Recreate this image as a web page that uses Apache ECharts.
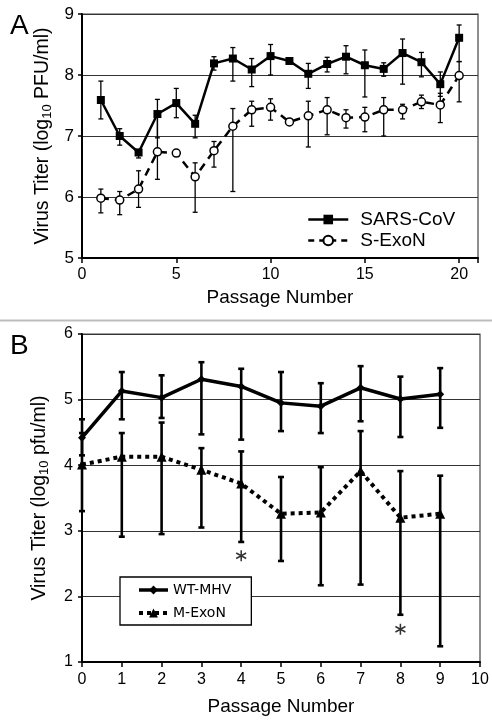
<!DOCTYPE html>
<html><head><meta charset="utf-8">
<script src="https://cdn.jsdelivr.net/npm/echarts@6/dist/echarts.min.js"></script>
<style>html,body{margin:0;padding:0;background:#fff}#c{width:492px;height:726px}</style>
</head><body><div id="c"></div>
<script>
// ---- Panel A data ----
const passagesA = [1,2,3,4,5,6,7,8,9,10,11,12,13,14,15,16,17,18,19,20];
const sarsCoV   = [7.59,7.00,6.73,7.36,7.54,7.20,8.19,8.27,8.09,8.31,8.23,8.02,8.18,8.30,8.16,8.10,8.36,8.21,7.85,8.61];
const sarsLow   = [7.28,6.85,6.64,6.97,7.30,6.97,8.08,7.90,7.81,8.00,null,7.78,8.05,8.02,7.64,7.98,7.85,7.97,7.65,8.22];
const sarsHigh  = [7.90,7.12,6.78,7.60,7.78,7.34,8.30,8.45,8.27,8.50,null,8.19,8.29,8.48,8.41,8.20,8.59,8.37,8.05,8.82];
const sExoN     = [5.98,5.95,6.13,6.74,6.72,6.33,6.76,7.16,7.43,7.47,7.23,7.33,7.43,7.30,7.31,7.43,7.43,7.56,7.51,7.99];
const sExoNLow  = [5.74,5.71,5.83,6.29,null,5.75,6.49,6.09,7.16,7.26,null,6.82,7.02,7.13,7.07,7.00,7.28,7.45,7.22,7.56];
const sExoNHigh = [6.13,6.09,6.43,7.34,null,6.56,6.91,7.45,7.57,7.61,null,7.57,7.63,7.43,7.47,7.63,7.52,7.67,7.70,8.22];
const xTicksA = [0,5,10,15,20];
const yTicksA = [5,6,7,8,9];

// ---- Panel B data ----
const passagesB = [0,1,2,3,4,5,6,7,8,9];
const wtMHV   = [4.42,5.13,5.03,5.31,5.20,4.95,4.90,5.18,5.01,5.08];
const wtLow   = [4.15,4.70,4.72,4.47,4.39,4.52,4.49,4.67,4.43,4.57];
const wtHigh  = [4.70,5.42,5.37,5.57,5.47,5.42,5.25,5.51,5.35,5.48];
const mExoN   = [4.01,4.13,4.13,3.93,3.72,3.26,3.28,3.91,3.20,3.26];
const mLow    = [3.30,2.91,2.95,3.05,2.83,2.54,2.17,2.18,1.72,1.24];
const mHigh   = [4.49,4.49,4.65,4.26,4.21,3.82,3.97,4.52,3.91,3.84];
const starX = [4,8];
const starY = [2.62,1.50];
const xTicksB = [0,1,2,3,4,5,6,7,8,9,10];
const yTicksB = [1,2,3,4,5,6];

const pairs = (xs, ys) => xs.map((x,i)=>[x, ys[i]]);
const errData = (xs, lo, hi) => xs.map((x,i)=>[x, lo[i], hi[i]]).filter(d=>d[1]!=null);
function errRender(capW, lw){
  return function(params, api){
    const x = api.value(0), lo = api.value(1), hi = api.value(2);
    const a = api.coord([x, lo]), b = api.coord([x, hi]);
    const st = {stroke:'#000', lineWidth: lw, fill: null};
    return {type:'group', children:[
      {type:'line', shape:{x1:a[0],y1:a[1],x2:b[0],y2:b[1]}, style:st},
      {type:'line', shape:{x1:a[0]-capW,y1:a[1],x2:a[0]+capW,y2:a[1]}, style:st},
      {type:'line', shape:{x1:b[0]-capW,y1:b[1],x2:b[0]+capW,y2:b[1]}, style:st}
    ]};
  };
}
const FA = 'Liberation Sans, Arial, sans-serif';
const axisNameRich = (unit) => ({
  name: '{a|Virus Titer (log}{b|10}{a| ' + unit + ')}',
});
const nameRich = {rich:{a:{fontFamily:FA, fontSize:19.5, color:'#000', lineHeight:22}, b:{fontFamily:FA, fontSize:13, color:'#000', verticalAlign:'bottom', lineHeight:22}}};
const chart = echarts.init(document.getElementById('c'), null, {renderer:'canvas'});
chart.setOption({
  animation:false,
  backgroundColor:'#fff',
  graphic:[
    {type:'line', shape:{x1:0,y1:320.5,x2:492,y2:320.5}, style:{stroke:'#bdbdbd', lineWidth:2}},
    {type:'text', left:10, top:12, style:{text:'A', font:'28px '+FA, fill:'#000'}},
    {type:'text', left:10, top:332, style:{text:'B', font:'28px '+FA, fill:'#000'}}
  ],
  grid:[
    {left:82, top:14, width:396, height:244, show:true, borderColor:'#444', borderWidth:1.2, backgroundColor:'transparent'},
    {left:82, top:334, width:398, height:328, show:true, borderColor:'#444', borderWidth:1.2, backgroundColor:'transparent'}
  ],
  legend:[
    {data:[{name:'SARS-CoV', lineStyle:{width:2.5}}, {name:'S-ExoN', lineStyle:{width:2.5, type:[6,5]}}],
     orient:'vertical', left:302, top:205, itemWidth:40, itemHeight:12, itemGap:2,
     textStyle:{fontFamily:FA, fontSize:19, color:'#000', padding:[0,0,0,7]}},
    {data:[{name:'WT-MHV', lineStyle:{width:3.5}}, {name:'M-ExoN', lineStyle:{width:4, type:[4,4]}}],
     orient:'vertical', left:120, top:577, itemWidth:29, itemHeight:11, itemGap:9,
     padding:[6,20,5,17], borderColor:'#000', borderWidth:1.3, backgroundColor:'#fff',
     textStyle:{fontFamily:'DejaVu Sans, Verdana, sans-serif', fontSize:14, color:'#000'}}
  ],
  xAxis:[
    {type:'value', gridIndex:0, min:0, max:21, interval:5,
     name:'Passage Number', nameLocation:'middle', nameGap:30, nameTextStyle:{fontFamily:FA, fontSize:19, color:'#000'},
     axisLine:{lineStyle:{color:'#000', width:2}}, axisTick:{show:true, length:5, lineStyle:{color:'#000', width:1.5}},
     axisLabel:{fontFamily:FA, fontSize:16, color:'#000', margin:9, formatter:v=> xTicksA.includes(v)? String(v):''},
     splitLine:{show:false}},
    {type:'value', gridIndex:1, min:0, max:10, interval:1,
     name:'Passage Number', nameLocation:'middle', nameGap:35, nameTextStyle:{fontFamily:FA, fontSize:19, color:'#000'},
     axisLine:{lineStyle:{color:'#000', width:2}}, axisTick:{show:true, length:5, lineStyle:{color:'#000', width:1.5}},
     axisLabel:{fontFamily:FA, fontSize:16, color:'#000', margin:10, formatter:v=> xTicksB.includes(v)? String(v):''},
     splitLine:{show:false}}
  ],
  yAxis:[
    {type:'value', gridIndex:0, min:5, max:9, interval:1,
     ...axisNameRich('PFU/ml'), nameLocation:'middle', nameGap:28, nameRotate:90,
     nameTextStyle:nameRich,
     axisLine:{show:true, lineStyle:{color:'#000', width:2}}, axisTick:{show:true, length:4, lineStyle:{color:'#000', width:1.5}},
     axisLabel:{fontFamily:FA, fontSize:17, color:'#000', margin:8, formatter:v=> yTicksA.includes(v)? String(v):''},
     splitLine:{show:true, lineStyle:{color:'#333', width:1.2}}},
    {type:'value', gridIndex:1, min:1, max:6, interval:1,
     ...axisNameRich('pfu/ml'), nameLocation:'middle', nameGap:31, nameRotate:90,
     nameTextStyle:nameRich,
     axisLine:{show:true, lineStyle:{color:'#000', width:2}}, axisTick:{show:true, length:4, lineStyle:{color:'#000', width:1.5}},
     axisLabel:{fontFamily:FA, fontSize:16, color:'#000', margin:9, formatter:v=> yTicksB.includes(v)? String(v):''},
     splitLine:{show:true, lineStyle:{color:'#333', width:1.2}}}
  ],
  series:[
    {type:'custom', name:'errA1', xAxisIndex:0, yAxisIndex:0, renderItem:errRender(2.5,1.3), encode:{x:0,y:[1,2]}, data:errData(passagesA, sarsLow, sarsHigh), z:1},
    {type:'custom', name:'errA2', xAxisIndex:0, yAxisIndex:0, renderItem:errRender(2.5,1.3), encode:{x:0,y:[1,2]}, data:errData(passagesA, sExoNLow, sExoNHigh), z:1},
    {type:'line', name:'SARS-CoV', xAxisIndex:0, yAxisIndex:0, data:pairs(passagesA, sarsCoV),
     symbol:'rect', symbolSize:8, showAllSymbol:true, itemStyle:{color:'#000'}, lineStyle:{color:'#000', width:2.5}, z:3},
    {type:'line', name:'S-ExoN', xAxisIndex:0, yAxisIndex:0, data:pairs(passagesA, sExoN),
     symbol:'circle', symbolSize:8, showAllSymbol:true, itemStyle:{color:'#fff', borderColor:'#000', borderWidth:1.5},
     lineStyle:{color:'#000', width:2.5, type:[8,6]}, z:3},
    {type:'custom', name:'errB1', xAxisIndex:1, yAxisIndex:1, renderItem:errRender(3,2.6), encode:{x:0,y:[1,2]}, data:errData(passagesB, wtLow, wtHigh), z:1},
    {type:'custom', name:'errB2', xAxisIndex:1, yAxisIndex:1, renderItem:errRender(3,2.6), encode:{x:0,y:[1,2]}, data:errData(passagesB, mLow, mHigh), z:1},
    {type:'line', name:'WT-MHV', xAxisIndex:1, yAxisIndex:1, data:pairs(passagesB, wtMHV),
     symbol:'diamond', symbolSize:8, showAllSymbol:true, itemStyle:{color:'#000'}, lineStyle:{color:'#000', width:3.5}, z:3},
    {type:'line', name:'M-ExoN', xAxisIndex:1, yAxisIndex:1, data:pairs(passagesB, mExoN),
     symbol:'triangle', symbolSize:10, showAllSymbol:true, itemStyle:{color:'#000'},
     lineStyle:{color:'#000', width:4, type:[4,4], cap:'butt'}, z:3},
    {type:'scatter', name:'stars', xAxisIndex:1, yAxisIndex:1, data:pairs(starX, starY),
     symbol:'path://M0,-5L0,5M-4.33,-2.5L4.33,2.5M-4.33,2.5L4.33,-2.5', symbolSize:[10,11],
     itemStyle:{color:'none', borderColor:'#000', borderWidth:1.6}, z:4}
  ]
});
</script></body></html>
